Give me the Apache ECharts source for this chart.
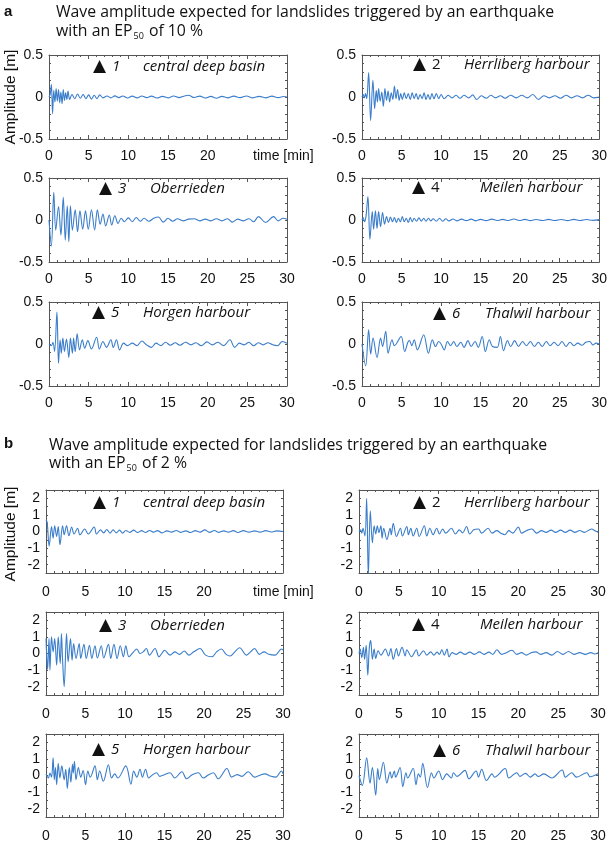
<!DOCTYPE html>
<html><head><meta charset="utf-8">
<script src="https://cdn.jsdelivr.net/npm/echarts@6/dist/echarts.min.js"></script>
<style>html,body{margin:0;padding:0;background:#fff}#c{width:610px;height:847px}</style>
</head><body><div id="c"></div>
<script>
// ---- tick labels / categories ----
const xTicks = [0, 5, 10, 15, 20, 25, 30];
const yTicksA = [-0.5, 0, 0.5];
const yTicksB = [-2, -1, 0, 1, 2];
const stationsA = ['central deep basin', 'Herrliberg harbour', 'Oberrieden', 'Meilen harbour', 'Horgen harbour', 'Thalwil harbour'];
const stationNums = ['1', '2', '3', '4', '5', '6'];

// ---- panel a (EP50 10 %), amplitude [m] vs time [min] ----
const a1Central = [[0,0],[0.15,0.03],[0.3,0.15],[0.45,-0.2],[0.6,0.08],[0.75,-0.06],[0.9,0.1],[1.05,-0.05],[1.2,0.09],[1.35,-0.07],[1.5,0.06],[1.65,-0.08],[1.8,0.09],[1.95,-0.04],[2.1,0.05],[2.25,-0.03],[2.4,0.07],[2.6,-0.03],[2.9,0.03],[3.25,-0.02],[3.6,0.035],[3.95,-0.015],[4.3,0.03],[4.65,-0.02],[5.0,0.025],[5.35,-0.025],[5.7,0.02],[6.05,-0.02],[6.4,0.025],[6.8,-0.01],[7.3,0.012],[7.8,-0.01],[8.3,0.013],[8.8,-0.008],[9.3,0.012],[9.9,-0.012],[10.5,0.01],[11.1,-0.01],[11.7,0.012],[12.3,-0.008],[12.9,0.01],[13.6,-0.012],[14.3,0.008],[15.0,-0.01],[15.7,0.012],[16.4,-0.008],[17.0,0.01],[17.6,0.02],[18.3,-0.006],[19.0,0.01],[19.7,-0.012],[20.4,0.008],[21.1,-0.015],[21.8,0.008],[22.5,-0.01],[23.3,0.01],[24.1,-0.008],[24.9,0.012],[25.7,-0.01],[26.5,0.008],[27.3,-0.01],[28.1,0.01],[28.9,-0.008],[29.6,0.006],[30,0]];
const a2Herrliberg = [[0,0],[0.15,0.03],[0.3,-0.01],[0.45,0.04],[0.6,-0.02],[0.84,0.29],[1.09,-0.28],[1.38,0.2],[1.6,-0.14],[1.8,0.08],[1.95,-0.06],[2.1,0.1],[2.3,-0.05],[2.5,0.06],[2.7,-0.11],[2.9,0.1],[3.1,-0.04],[3.3,0.07],[3.5,-0.06],[3.7,0.05],[3.9,-0.03],[4.1,0.13],[4.3,-0.02],[4.5,0.09],[4.7,-0.04],[4.9,0.04],[5.1,-0.03],[5.35,0.05],[5.6,-0.02],[5.85,0.04],[6.1,-0.03],[6.35,0.05],[6.6,-0.02],[6.85,0.04],[7.1,-0.03],[7.35,0.03],[7.6,-0.02],[7.85,0.05],[8.1,-0.03],[8.35,0.03],[8.6,-0.03],[8.85,0.04],[9.1,-0.02],[9.4,0.04],[9.7,-0.02],[10.0,0.03],[10.4,-0.02],[10.9,0.02],[11.4,-0.01],[11.9,0.02],[12.4,-0.015],[12.9,0.02],[13.5,-0.01],[14.0,0.025],[14.5,-0.03],[15.1,0.015],[15.7,-0.015],[16.3,0.02],[16.9,-0.01],[17.5,0.015],[18.1,-0.015],[18.8,0.02],[19.5,-0.01],[20.2,0.02],[20.9,-0.01],[21.6,0.03],[22.3,-0.03],[23.0,0.015],[23.7,-0.01],[24.4,0.015],[25.1,-0.015],[25.8,0.02],[26.5,-0.01],[27.2,0.015],[27.9,-0.01],[28.6,0.02],[29.3,-0.01],[30,0]];
const a3Oberrieden = [[0,0],[0.3,-0.31],[0.6,0.33],[0.85,-0.12],[1.2,0.16],[1.5,-0.18],[1.8,0.27],[2.05,-0.24],[2.3,0.17],[2.5,-0.26],[2.7,0.17],[2.95,-0.12],[3.3,0.12],[3.6,-0.14],[3.9,0.11],[4.25,-0.11],[4.6,0.11],[4.95,-0.11],[5.35,0.12],[5.75,-0.12],[6.1,0.12],[6.45,-0.05],[6.8,0.07],[7.15,-0.07],[7.6,0.06],[7.9,-0.06],[8.3,0.05],[8.7,-0.04],[9.1,0.02],[9.5,-0.02],[10.0,0.025],[10.5,-0.02],[11.0,0.03],[11.5,-0.015],[12.0,0.02],[12.6,-0.015],[13.2,0.02],[13.8,0.035],[14.4,-0.025],[15.0,0.02],[15.6,-0.015],[16.2,0.015],[16.9,-0.01],[17.6,0.01],[18.3,0.015],[19.0,-0.01],[19.7,0.01],[20.4,-0.01],[21.1,0.015],[21.8,-0.01],[22.5,0.015],[23.1,-0.025],[23.8,0.01],[24.5,-0.01],[25.2,0.015],[25.8,-0.02],[26.4,0.04],[27.3,-0.03],[28.3,0.04],[28.9,-0.01],[29.5,0.02],[30,0.01]];
const a4Meilen = [[0,0],[0.15,0.03],[0.3,-0.02],[0.5,0.04],[0.75,0.28],[1.0,-0.23],[1.3,0.1],[1.47,-0.11],[1.7,0.11],[1.9,-0.1],[2.1,0.1],[2.35,-0.08],[2.6,0.09],[2.85,-0.05],[3.1,0.04],[3.35,-0.03],[3.6,0.035],[3.85,-0.02],[4.1,0.03],[4.35,-0.03],[4.6,0.02],[4.85,-0.02],[5.1,0.04],[5.35,-0.02],[5.6,0.02],[5.85,-0.03],[6.1,0.03],[6.35,-0.02],[6.6,0.02],[6.9,-0.015],[7.2,0.025],[7.5,-0.015],[7.8,0.02],[8.1,-0.015],[8.4,0.02],[8.7,-0.01],[9.0,0.015],[9.4,-0.015],[9.8,0.02],[10.2,-0.015],[10.6,0.015],[11.0,-0.01],[11.5,0.012],[12.0,-0.01],[12.6,0.01],[13.2,-0.008],[13.8,0.01],[14.4,-0.01],[15.0,0.008],[15.7,-0.008],[16.4,0.01],[17.1,-0.006],[17.8,0.008],[18.5,-0.006],[19.2,0.012],[19.9,-0.006],[20.6,0.008],[21.3,-0.008],[22.0,0.006],[22.8,-0.006],[23.6,0.008],[24.4,-0.006],[25.2,0.006],[26.0,-0.008],[26.8,0.008],[27.6,-0.006],[28.4,0.006],[29.2,-0.004],[30,0.004]];
const a5Horgen = [[0,0],[0.3,-0.02],[0.5,0.02],[0.7,-0.09],[1.0,0.38],[1.2,-0.23],[1.4,0.05],[1.55,-0.11],[1.75,0.07],[1.95,-0.09],[2.2,0.06],[2.5,-0.16],[2.7,0.07],[2.95,-0.11],[3.1,0.07],[3.3,-0.09],[3.55,0.12],[3.85,-0.07],[4.2,0.05],[4.5,-0.05],[4.9,0.04],[5.35,-0.06],[6.0,0.08],[6.35,-0.06],[6.8,0.03],[7.25,-0.04],[7.8,0.05],[8.1,-0.04],[8.5,0.05],[8.9,-0.07],[9.4,0.01],[9.9,-0.02],[10.5,0.01],[11.1,-0.02],[11.7,0.035],[12.3,-0.01],[12.9,-0.04],[13.5,0.01],[14.1,-0.02],[14.7,0.02],[15.3,-0.015],[15.9,0.015],[16.5,-0.015],[17.2,0.02],[17.9,-0.01],[18.5,0.015],[19.2,-0.02],[19.9,0.025],[20.6,-0.01],[21.3,0.02],[22.0,-0.02],[22.8,0.05],[23.4,-0.04],[24.0,0.01],[24.6,-0.01],[25.2,0.02],[25.8,-0.02],[26.4,0.015],[27.0,-0.01],[27.6,0.015],[28.2,-0.01],[28.8,-0.02],[29.4,0.03],[30,0.01]];
const a6Thalwil = [[0,0],[0.46,-0.26],[0.84,0.17],[1.1,-0.12],[1.4,0.07],[1.9,-0.16],[2.35,0.07],[2.6,-0.03],[3.0,0.15],[3.3,-0.11],[3.8,0.05],[4.1,-0.02],[4.95,0.09],[5.4,-0.09],[5.8,0.02],[6.0,0.04],[6.3,-0.02],[6.6,0.05],[7.0,-0.07],[7.8,0.11],[8.4,-0.11],[8.9,0.05],[9.3,-0.03],[9.7,0.03],[10.0,0.0],[10.4,-0.07],[10.8,0.03],[11.2,-0.02],[11.6,0.03],[12.0,-0.03],[12.5,0.02],[12.9,-0.04],[13.4,0.04],[13.8,-0.03],[14.3,0.03],[14.7,-0.04],[15.2,0.09],[15.6,-0.09],[16.1,0.05],[16.5,-0.03],[17.1,-0.04],[17.5,0.09],[17.9,-0.08],[18.4,0.04],[18.8,-0.03],[19.3,0.04],[19.8,-0.03],[20.3,0.03],[20.8,-0.02],[21.3,0.03],[21.8,-0.03],[22.3,0.02],[22.8,-0.03],[23.3,0.03],[23.8,-0.02],[24.3,0.02],[24.8,-0.02],[25.3,0.03],[25.8,-0.03],[26.3,0.02],[26.8,-0.02],[27.3,0.01],[27.8,-0.015],[28.3,0.02],[28.8,0.03],[29.2,-0.01],[29.6,0.01],[30,0]];

// ---- panel b (EP50 2 %) ----
const b1Central = [[0,0.7],[0.15,0.55],[0.4,-0.88],[0.7,0.3],[0.9,-0.4],[1.1,0.35],[1.35,-0.3],[1.55,0.3],[1.77,-0.8],[2.1,0.35],[2.3,-0.2],[2.6,0.35],[2.9,-0.26],[3.25,0.27],[3.55,-0.15],[4.0,0.2],[4.3,-0.2],[4.9,0.15],[5.35,-0.15],[6.1,0.27],[6.4,-0.15],[6.9,0.1],[7.3,-0.08],[7.7,0.12],[8.1,-0.1],[8.5,0.1],[8.9,-0.08],[9.3,0.08],[9.7,-0.1],[10.1,0.06],[10.6,-0.05],[11.1,0.08],[11.6,-0.06],[12.1,0.05],[12.6,-0.06],[13.1,0.06],[13.6,-0.04],[14.1,0.05],[14.7,-0.08],[15.3,0.04],[15.9,-0.04],[16.5,0.06],[17.1,-0.05],[17.7,0.04],[18.3,-0.06],[18.9,0.05],[19.5,-0.04],[20.1,0.1],[20.7,-0.05],[21.3,0.06],[21.9,-0.05],[22.5,0.04],[23.1,-0.04],[23.7,0.05],[24.3,-0.06],[25.0,0.05],[25.7,-0.04],[26.4,0.04],[27.1,-0.04],[27.8,0.05],[28.5,-0.03],[29.2,0.04],[30,0.0]];
const b2Herrliberg = [[0,0],[0.2,0.1],[0.35,-0.1],[0.5,0.2],[0.75,-0.27],[0.96,2.0],[1.17,-2.7],[1.42,1.24],[1.68,-0.68],[1.9,0.35],[2.1,-0.15],[2.3,0.35],[2.5,-0.06],[2.75,0.35],[2.9,-0.4],[3.1,0.2],[3.5,-0.48],[3.9,0.2],[4.05,-0.2],[4.3,0.5],[4.7,-0.3],[5.2,0.2],[5.45,-0.27],[6.0,0.3],[6.2,-0.2],[6.5,0.2],[6.8,-0.27],[7.25,0.2],[7.55,-0.3],[8.2,0.35],[8.5,-0.27],[8.9,0.2],[9.3,-0.2],[9.75,0.2],[10.1,-0.15],[10.5,0.15],[10.9,-0.1],[11.6,0.2],[12.1,-0.15],[12.6,0.1],[13.0,-0.08],[13.5,0.3],[13.9,-0.15],[14.4,0.1],[15.0,0.15],[15.4,-0.1],[16.2,0.2],[16.7,-0.1],[17.3,0.05],[17.8,-0.1],[18.3,-0.2],[18.8,0.05],[19.3,-0.1],[20.0,0.27],[20.4,-0.1],[21.0,0.05],[21.7,0.15],[22.3,-0.1],[22.9,0.05],[23.5,-0.05],[24.1,0.08],[24.7,-0.05],[25.3,0.08],[25.9,-0.05],[26.5,0.08],[27.1,-0.05],[27.7,0.06],[28.3,-0.05],[29.2,0.15],[29.6,0.05],[30,-0.05]];
const b3Oberrieden = [[0,0.9],[0.2,-0.96],[0.38,0.92],[0.5,-1.0],[0.7,1.0],[0.9,0.1],[1.1,0.9],[1.35,-0.7],[1.55,1.0],[1.8,-0.6],[1.95,1.2],[2.1,-0.4],[2.3,-2.0],[2.6,1.2],[2.8,-0.5],[3.1,0.9],[3.3,-0.4],[3.5,0.6],[3.8,-0.3],[4.2,0.6],[4.4,-0.3],[4.8,0.55],[5.1,-0.3],[5.5,0.5],[5.8,-0.3],[6.2,0.47],[6.5,-0.27],[7.0,0.47],[7.3,-0.27],[7.9,0.55],[8.2,-0.3],[8.6,0.55],[9.0,-0.3],[9.4,0.47],[9.8,-0.2],[10.1,0.47],[10.5,-0.2],[11.0,0.05],[11.5,0.27],[11.9,0.0],[12.3,0.1],[12.7,0.3],[13.1,-0.1],[13.8,0.3],[14.3,-0.2],[14.8,0.1],[15.0,0.2],[15.7,-0.1],[16.3,0.1],[16.9,-0.05],[17.5,0.15],[18.1,-0.1],[18.7,0.1],[19.5,0.3],[20.2,-0.1],[21.0,-0.2],[21.6,0.1],[22.2,0.27],[22.8,-0.05],[23.3,-0.15],[23.9,0.1],[24.5,0.35],[25.4,-0.1],[25.9,0.1],[26.4,0.3],[27.0,-0.05],[27.6,0.1],[28.2,-0.05],[29.0,-0.1],[29.8,0.27],[30,0.2]];
const b4Meilen = [[0,0],[0.15,0.27],[0.35,-0.25],[0.55,0.37],[0.7,-0.35],[0.9,0.5],[1.1,-1.3],[1.3,0.37],[1.47,0.8],[1.68,-0.35],[1.9,0.27],[2.1,-0.3],[2.4,0.17],[2.75,-0.1],[3.3,0.27],[3.7,-0.15],[4.0,0.3],[4.3,-0.35],[4.7,0.3],[4.95,-0.15],[5.4,0.37],[5.8,-0.15],[6.0,0.23],[6.6,-0.2],[7.2,0.23],[7.5,-0.15],[8.1,0.17],[8.5,-0.1],[9.0,0.1],[9.4,-0.1],[9.8,0.08],[10.1,-0.05],[10.4,0.23],[10.7,-0.1],[11.05,0.27],[11.3,-0.2],[11.7,0.05],[12.2,-0.05],[12.7,0.08],[13.3,-0.05],[13.9,0.08],[14.5,-0.05],[15.1,0.1],[15.7,-0.05],[16.3,0.08],[16.8,-0.05],[17.3,0.23],[17.9,-0.05],[18.5,0.05],[19.2,0.2],[19.8,-0.05],[20.4,0.05],[21.0,-0.1],[21.6,0.05],[22.2,0.1],[22.8,-0.05],[23.5,0.05],[24.2,-0.1],[24.9,0.12],[25.6,-0.05],[26.3,0.12],[27.0,-0.05],[27.7,0.05],[28.4,-0.05],[29.1,0.05],[29.6,-0.03],[30,0.05]];
const b5Horgen = [[0,0.1],[0.3,-0.15],[0.5,0.15],[0.7,-0.1],[0.9,1.06],[1.05,-0.25],[1.2,0.48],[1.35,-0.55],[1.55,0.73],[1.75,-0.15],[2.0,0.58],[2.3,-0.25],[2.5,0.38],[2.7,-0.78],[2.95,0.48],[3.15,-0.4],[3.35,0.68],[3.45,0.15],[3.6,0.85],[3.8,-0.25],[4.1,0.48],[4.4,-0.1],[4.7,0.3],[5.0,-0.55],[5.3,0.27],[5.6,-0.1],[6.2,0.58],[6.5,-0.25],[6.8,0.27],[7.25,-0.35],[7.9,0.65],[8.3,-0.15],[8.7,0.1],[9.1,-0.15],[10.1,0.58],[10.75,-0.52],[11.1,0.27],[11.5,-0.1],[11.9,0.38],[12.2,-0.1],[12.6,0.38],[13.0,-0.15],[13.5,0.05],[14.0,0.17],[14.4,-0.05],[15.0,0.05],[15.7,0.17],[16.3,-0.15],[17.2,0.23],[17.8,-0.2],[18.5,0.05],[19.3,0.17],[19.9,-0.15],[20.6,0.05],[21.2,0.17],[21.8,-0.2],[22.9,0.42],[23.5,-0.1],[24.2,0.05],[24.8,-0.05],[25.6,0.23],[26.4,-0.1],[27.0,0.0],[27.7,0.1],[28.5,-0.05],[29.1,-0.1],[29.8,0.27],[30,0.1]];
const b6Thalwil = [[0,0],[0.42,-0.6],[0.96,1.06],[1.38,-0.46],[1.68,0.48],[2.1,-1.19],[2.35,0.42],[2.55,-0.25],[3.06,0.8],[3.5,-0.46],[3.9,0.23],[4.1,-0.15],[4.44,0.27],[4.6,-0.1],[5.15,0.48],[5.5,-0.67],[5.9,0.17],[6.1,-0.15],[6.8,0.44],[7.15,-0.56],[7.45,0.1],[7.7,-0.1],[8.0,0.73],[8.6,-0.73],[9.1,0.17],[9.4,-0.15],[10.0,0.27],[10.5,-0.25],[11.0,0.1],[11.6,-0.15],[11.85,0.17],[12.3,-0.05],[13.3,0.31],[13.8,-0.2],[14.7,0.27],[15.0,-0.1],[15.4,0.38],[16.0,-0.3],[16.7,0.1],[17.0,-0.1],[18.35,0.42],[18.8,-0.15],[19.8,0.17],[20.2,-0.05],[20.9,0.13],[21.5,-0.1],[22.1,0.1],[22.5,-0.06],[23.2,0.1],[24.2,-0.15],[25.5,0.33],[25.9,-0.1],[26.7,0.17],[27.3,-0.1],[28.6,0.17],[29.0,-0.08],[30,0.1]];

const seriesA = [a1Central, a2Herrliberg, a3Oberrieden, a4Meilen, a5Horgen, a6Thalwil];
const seriesB = [b1Central, b2Herrliberg, b3Oberrieden, b4Meilen, b5Horgen, b6Thalwil];

// ---- layout ----
const LINE = '#3a7dca';
const FRAME = '#555';
const panels = [];
const aLeft = [49, 362], aW = [238, 239], aTop = [55, 178, 302], aH = 84;
const bLeft = [46, 359], bW = [237, 239], bTop = [490, 612, 734], bH = 83;
for (let i = 0; i < 6; i++) {
  const c = i % 2, r = Math.floor(i / 2);
  panels.push({data: seriesA[i], left: aLeft[c], width: aW[c], top: aTop[r], height: aH,
    ymin: -0.5, ymax: 0.5, yint: 0.1, ylabels: yTicksA, margin: 10, hideLate: i === 0});
}
for (let i = 0; i < 6; i++) {
  const c = i % 2, r = Math.floor(i / 2);
  panels.push({data: seriesB[i], left: bLeft[c], width: bW[c], top: bTop[r], height: bH,
    ymin: -2.5, ymax: 2.5, yint: 0.5, ylabels: yTicksB, margin: 12, hideLate: i === 0});
}

const grid = [], xAxis = [], yAxis = [], series = [];
const isLabel = (arr, v) => arr.some(t => Math.abs(t - v) < 1e-6);
panels.forEach((p, k) => {
  grid.push({left: p.left, top: p.top, width: p.width, height: p.height, containLabel: false});
  const tickCommon = {inside: true, length: 4, lineStyle: {color: FRAME, width: 1}};
  const minorCommon = {show: true, length: 2, splitNumber: 5, lineStyle: {color: FRAME, width: 1}};
  const axLine = {show: true, onZero: false, lineStyle: {color: FRAME, width: 1}};
  xAxis.push({type: 'value', gridIndex: k, min: 0, max: 30, interval: 5, position: 'bottom',
    axisLine: axLine, axisTick: tickCommon, minorTick: minorCommon, splitLine: {show: false},
    axisLabel: {fontFamily: 'Liberation Sans', fontSize: 14, color: '#111', margin: p.margin,
      formatter: v => (p.hideLate && v > 20) ? '' : (isLabel(xTicks, v) ? String(v) : '')}});
  xAxis.push({type: 'value', gridIndex: k, min: 0, max: 30, interval: 5, position: 'top',
    axisLine: axLine, axisTick: tickCommon, minorTick: minorCommon, splitLine: {show: false},
    axisLabel: {show: false}});
  const yTick = {inside: true, length: 2, lineStyle: {color: FRAME, width: 1}};
  yAxis.push({type: 'value', gridIndex: k, min: p.ymin, max: p.ymax, interval: p.yint, position: 'left',
    axisLine: axLine, axisTick: yTick, splitLine: {show: false},
    axisLabel: {fontFamily: 'Liberation Sans', fontSize: 14, color: '#111', margin: 6,
      formatter: v => isLabel(p.ylabels, v) ? String(Math.round(v * 10) / 10) : ''}});
  yAxis.push({type: 'value', gridIndex: k, min: p.ymin, max: p.ymax, interval: p.yint, position: 'right',
    axisLine: axLine, axisTick: yTick, splitLine: {show: false}, axisLabel: {show: false}});
  series.push({type: 'line', xAxisIndex: 2 * k, yAxisIndex: 2 * k, data: p.data,
    showSymbol: false, smooth: 0.35, clip: true, silent: true,
    lineStyle: {color: LINE, width: 1.1}});
});

// ---- annotation texts ----
const G = [];
function txt(x, y, text, opt) {
  G.push({type: 'text', x: x, y: y, silent: true, style: Object.assign({text: text, fill: '#111',
    fontFamily: 'Open Sans', fontSize: 14, verticalAlign: 'middle', align: 'left'}, opt || {})});
}
const TF = 15.8;
txt(4, 12, 'a', {fontFamily: 'Liberation Sans', fontWeight: 'bold', fontSize: 15});
txt(56, 12, 'Wave amplitude expected for landslides triggered by an earthquake', {fontSize: TF});
G.push({type: 'text', x: 56, y: 31, silent: true, style: {text: '{n|with an EP}{s|50}{n| of 10 %}', verticalAlign: 'middle',
  rich: {n: {fontFamily: 'Open Sans', fontSize: TF, fill: '#111'}, s: {fontFamily: 'Open Sans', fontSize: 9, fill: '#111', padding: [10, 1, 0, 1]}}}});
txt(4, 444, 'b', {fontFamily: 'Liberation Sans', fontWeight: 'bold', fontSize: 15});
txt(49, 445, 'Wave amplitude expected for landslides triggered by an earthquake', {fontSize: TF});
G.push({type: 'text', x: 49, y: 463, silent: true, style: {text: '{n|with an EP}{s|50}{n| of 2 %}', verticalAlign: 'middle',
  rich: {n: {fontFamily: 'Open Sans', fontSize: TF, fill: '#111'}, s: {fontFamily: 'Open Sans', fontSize: 9, fill: '#111', padding: [10, 1, 0, 1]}}}});
G.push({type: 'text', x: 11, y: 97, rotation: Math.PI / 2, silent: true, style: {text: 'Amplitude [m]', fill: '#111', fontFamily: 'Liberation Sans', fontSize: 15.5, align: 'center', verticalAlign: 'middle'}});
G.push({type: 'text', x: 11, y: 534, rotation: Math.PI / 2, silent: true, style: {text: 'Amplitude [m]', fill: '#111', fontFamily: 'Liberation Sans', fontSize: 15.5, align: 'center', verticalAlign: 'middle'}});
txt(253, 156, 'time [min]', {fontFamily: 'Liberation Sans', fontSize: 14});
txt(253, 592, 'time [min]', {fontFamily: 'Liberation Sans', fontSize: 14});
const triX = [94, 414, 100, 413, 93, 434];
const nameX = [143, 464, 150, 480, 143, 485];
const labYA = [67, 65, 189, 188, 313, 314];
const labYB = [503, 503, 626, 625, 750, 751];
const numItalic = [true, false, true, false, true, true];
[labYA, labYB].forEach(ys => {
  for (let i = 0; i < 6; i++) {
    txt(triX[i] - 1, ys[i], '\u25B2', {fontFamily: 'DejaVu Sans', fontSize: 17});
    txt(triX[i] + 18, ys[i], stationNums[i], {fontStyle: numItalic[i] ? 'italic' : 'normal', fontSize: 15});
    txt(nameX[i], ys[i], stationsA[i], {fontStyle: 'italic', fontSize: 15});
  }
});

const chart = echarts.init(document.getElementById('c'), null, {renderer: 'canvas'});
chart.setOption({animation: false, backgroundColor: '#fff', grid, xAxis, yAxis, series, graphic: G});
</script></body></html>
